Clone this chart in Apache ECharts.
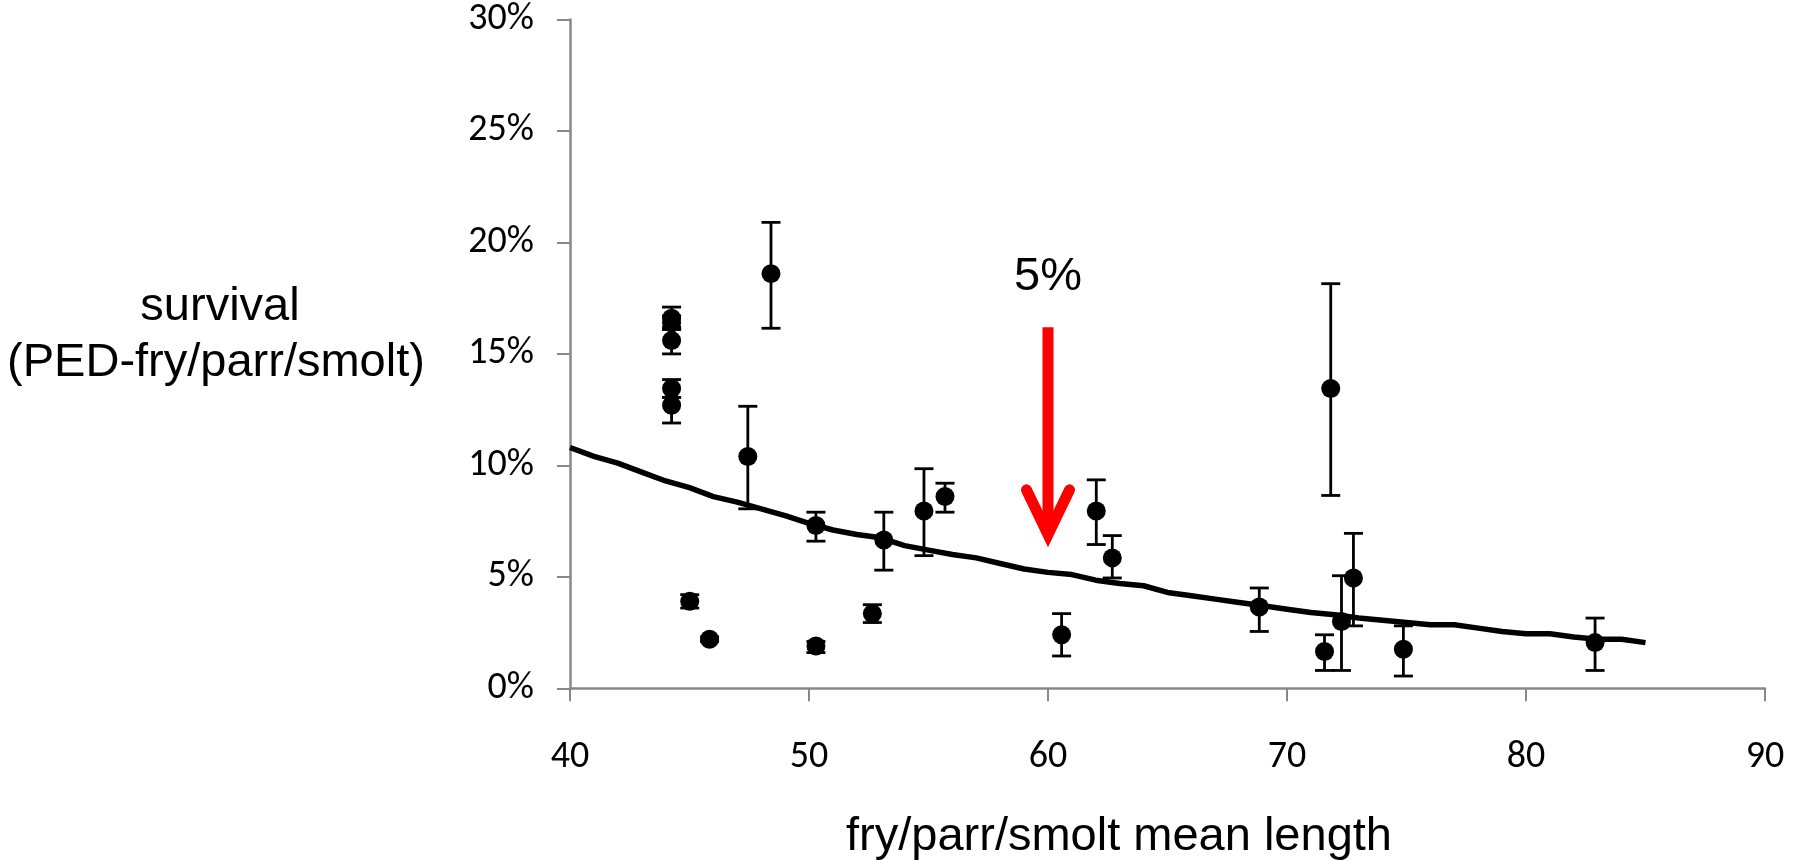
<!DOCTYPE html>
<html>
<head>
<meta charset="utf-8">
<script src="https://cdn.jsdelivr.net/npm/echarts@6/dist/echarts.min.js"></script>
<style>
html,body{margin:0;padding:0;background:#fff;}
#chart{width:1808px;height:860px;}
</style>
</head>
<body>
<div id="chart"></div>
<script>
// ---- data ----
const meanLength = [44.25, 44.25, 44.25, 44.25, 44.25, 48.41, 47.44, 45.01, 45.84, 50.29, 50.29, 52.65, 53.13, 54.81, 55.69, 60.57, 62.02, 62.69, 68.84, 71.83, 71.57, 72.28, 72.78, 74.87, 82.89];
const survival   = [16.6, 16.4, 15.6, 13.45, 12.7, 18.6, 10.4, 3.9, 2.2, 7.3, 1.9, 3.35, 6.65, 7.95, 8.6, 2.4, 7.95, 5.85, 3.65, 13.45, 1.65, 3.0, 4.95, 1.75, 2.05];
const errLow     = [0.5, 0.3, 0.6, 0.4, 0.8, 2.45, 2.35, 0.3, 0.1, 0.7, 0.3, 0.4, 1.35, 2.0, 0.7, 0.95, 1.5, 0.9, 1.1, 4.8, 0.85, 2.2, 2.15, 1.2, 1.25];
const errHigh    = [0.5, 0.3, 0.6, 0.4, 0.35, 2.3, 2.25, 0.3, 0.1, 0.6, 0.2, 0.4, 1.25, 1.9, 0.6, 0.95, 1.4, 1.0, 0.85, 4.7, 0.75, 2.05, 2.0, 1.05, 1.1];

const trendX = [40,41,42,43,44,45,46,47,48,49,50,51,52,53,54,55,56,57,58,59,60,61,62,63,64,65,66,67,68,69,70,71,72,73,74,75,76,77,78,79,80,81,82,83,84,85];
const trendY = [10.8,10.4,10.1,9.7,9.3,9.0,8.6,8.35,8.05,7.75,7.4,7.1,6.9,6.75,6.4,6.2,6.0,5.85,5.6,5.35,5.2,5.1,4.85,4.7,4.6,4.3,4.15,4.0,3.85,3.7,3.55,3.4,3.3,3.15,3.05,2.95,2.85,2.85,2.7,2.55,2.45,2.45,2.3,2.2,2.2,2.05];

const xTicks = [40, 50, 60, 70, 80, 90];
const yTicks = [0, 5, 10, 15, 20, 25, 30];

const arrowShaftX = [60, 60];
const arrowShaftY = [16.2, 6.9];
const arrowHeadX = [59.1, 60, 60.9];
const arrowHeadY = [8.9, 6.9, 8.9];
const noteText = '5%';
const noteX = 60, noteY = 18.45;

const xTitle = 'fry/parr/smolt mean length';
const yTitle = ['survival', '(PED-fry/parr/smolt)'];

// ---- chart ----
const chart = echarts.init(document.getElementById('chart'), null, {renderer: 'canvas'});
const axisColor = '#888888';
const tickFont = 'Carlito, Lato, sans-serif';
const titleFont = 'Liberation Sans, Arial, sans-serif';

const errData = meanLength.map((x, i) => [x, survival[i] - errLow[i], survival[i] + errHigh[i]]);
const pts = meanLength.map((x, i) => [x, survival[i]]);

const option = {
  animation: false,
  backgroundColor: '#ffffff',
  grid: {left: 570, right: 43, top: 19.5, bottom: 171.7, containLabel: false},
  xAxis: {
    type: 'value', min: xTicks[0], max: xTicks[xTicks.length - 1], interval: 10,
    axisLine: {show: true, onZero: false, lineStyle: {color: axisColor, width: 2.5}},
    axisTick: {show: true, length: 13, inside: false, lineStyle: {color: axisColor, width: 2}},
    splitLine: {show: false},
    axisLabel: {color: '#000', fontFamily: tickFont, fontSize: 38, margin: 50}
  },
  yAxis: {
    type: 'value', min: yTicks[0], max: yTicks[yTicks.length - 1], interval: 5,
    axisLine: {show: true, onZero: false, lineStyle: {color: axisColor, width: 2.5}},
    axisTick: {show: true, length: 13, inside: false, lineStyle: {color: axisColor, width: 2}},
    splitLine: {show: false},
    axisLabel: {color: '#000', fontFamily: tickFont, fontSize: 38, margin: 36, formatter: '{value}%'}
  },
  graphic: [
    {type: 'text', x: 220, y: 307, style: {text: yTitle[0], fontFamily: titleFont, fontSize: 47, fill: '#000', align: 'center', verticalAlign: 'middle'}},
    {type: 'text', x: 216, y: 363, style: {text: yTitle[1], fontFamily: titleFont, fontSize: 47, fill: '#000', align: 'center', verticalAlign: 'middle'}},
    {type: 'text', x: 1119, y: 837, style: {text: xTitle, fontFamily: titleFont, fontSize: 47, fill: '#000', align: 'center', verticalAlign: 'middle'}}
  ],
  series: [
    {
      type: 'line', name: 'trend', data: trendX.map((x, i) => [x, trendY[i]]),
      symbol: 'none', lineStyle: {color: '#000', width: 5.5}, z: 2, silent: true
    },
    {
      type: 'custom', name: 'error', data: errData, z: 3, silent: true,
      renderItem: function (params, api) {
        const x = api.value(0);
        const lo = api.coord([x, api.value(1)]);
        const hi = api.coord([x, api.value(2)]);
        const hw = 9.5;
        const st = {stroke: '#000', lineWidth: 2.8};
        return {type: 'group', children: [
          {type: 'line', shape: {x1: lo[0], y1: lo[1], x2: hi[0], y2: hi[1]}, style: st},
          {type: 'line', shape: {x1: lo[0] - hw, y1: lo[1], x2: lo[0] + hw, y2: lo[1]}, style: st},
          {type: 'line', shape: {x1: hi[0] - hw, y1: hi[1], x2: hi[0] + hw, y2: hi[1]}, style: st}
        ]};
      }
    },
    {
      type: 'scatter', name: 'survival', data: pts, symbol: 'circle', symbolSize: 19,
      itemStyle: {color: '#000', opacity: 1}, z: 4, silent: true
    },
    {
      type: 'line', name: 'arrowShaft', data: arrowShaftX.map((x, i) => [x, arrowShaftY[i]]),
      symbol: 'none', lineStyle: {color: '#ff0000', width: 11, cap: 'butt'}, z: 5, silent: true
    },
    {
      type: 'line', name: 'arrowHead', data: arrowHeadX.map((x, i) => [x, arrowHeadY[i]]),
      symbol: 'none', lineStyle: {color: '#ff0000', width: 11, cap: 'round', join: 'miter'}, z: 5, silent: true
    },
    {
      type: 'scatter', name: 'note', data: [[noteX, noteY]], symbolSize: 1, itemStyle: {color: '#ffffff', opacity: 1},
      label: {show: true, position: 'inside', formatter: noteText, color: '#000000', opacity: 1, fontFamily: titleFont, fontSize: 47},
      z: 6, silent: true
    }
  ]
};
chart.setOption(option);
</script>
</body>
</html>
